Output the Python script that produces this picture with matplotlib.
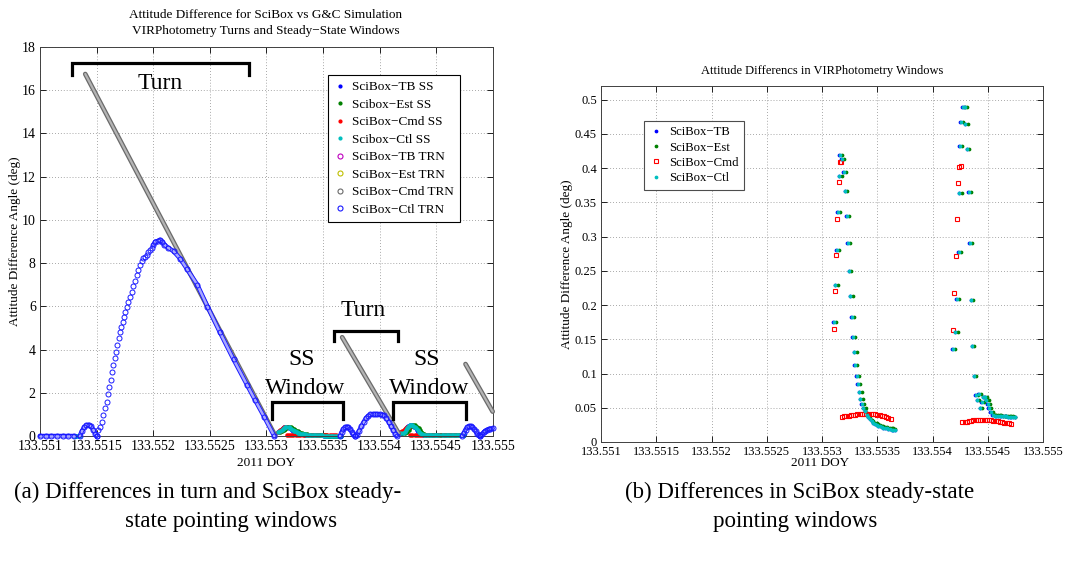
import matplotlib
matplotlib.use('Agg')
import matplotlib.pyplot as plt
from matplotlib.lines import Line2D

plt.rcParams['font.family'] = ['Liberation Serif', 'DejaVu Serif']

# ---------------- data ----------------
x_ticks = [133.551, 133.5515, 133.552, 133.5525, 133.553, 133.5535, 133.554, 133.5545, 133.555]
x_tick_labels = ['133.551', '133.5515', '133.552', '133.5525', '133.553',
                 '133.5535', '133.554', '133.5545', '133.555']
left_y_ticks = [0, 2, 4, 6, 8, 10, 12, 14, 16, 18]
right_y_ticks = [0, 0.05, 0.1, 0.15, 0.2, 0.25, 0.3, 0.35, 0.4, 0.45, 0.5]
right_y_labels = ['0', '0.05', '0.1', '0.15', '0.2', '0.25', '0.3', '0.35', '0.4', '0.45', '0.5']

# SciBox-Ctl TRN (blue circles), left plot
trn_flat_t = [133.55100, 133.55105, 133.55110, 133.55115, 133.55120, 133.55125, 133.55130]
trn_flat_v = [0, 0, 0, 0, 0, 0, 0]
trn_bump1_t = [133.55135, 133.55137, 133.55139, 133.55141, 133.55143, 133.55145, 133.55147, 133.55149, 133.55150]
trn_bump1_v = [0.0, 0.22, 0.40, 0.50, 0.52, 0.45, 0.30, 0.10, 0.0]
trn_rise_t = [133.551500, 133.551515, 133.551530, 133.551545, 133.551559, 133.551574, 133.551589,
              133.551600, 133.5516125, 133.551624, 133.551636, 133.551648, 133.551660, 133.551671,
              133.551683, 133.551695, 133.551707, 133.5517185, 133.551730, 133.551742, 133.551754,
              133.551766, 133.551780, 133.551795, 133.551810, 133.5518245, 133.551839, 133.551854,
              133.551869, 133.551883, 133.551898, 133.551913, 133.551928, 133.551942, 133.551957,
              133.551972, 133.551986]
trn_rise_v = [0.00, 0.28, 0.43, 0.66, 0.97, 1.28, 1.59,
              1.95, 2.28, 2.59, 2.98, 3.29, 3.59, 3.90,
              4.21, 4.52, 4.83, 5.06, 5.29, 5.52, 5.75,
              5.99, 6.22, 6.45, 6.68, 6.94, 7.19, 7.45,
              7.68, 7.91, 8.10, 8.22, 8.30, 8.38, 8.50,
              8.61, 8.72]
trn_fall_t = [133.552001, 133.55202, 133.55204, 133.55206, 133.55208, 133.55210, 133.55213,
              133.55218, 133.55224, 133.55230, 133.55239, 133.55248, 133.55259, 133.55271,
              133.55283, 133.55290, 133.55298, 133.55307]
trn_fall_v = [8.84, 9.00, 9.02, 9.08, 9.00, 8.85, 8.72,
              8.55, 8.20, 7.72, 7.00, 5.99, 4.80, 3.55,
              2.36, 1.67, 0.90, 0.00]
trn_bump2_t = [133.553650, 133.553665, 133.553680, 133.553695, 133.553710, 133.553725,
               133.553740, 133.553755, 133.553770, 133.553780]
trn_bump2_v = [0.0, 0.18, 0.32, 0.40, 0.43, 0.40, 0.32, 0.20, 0.08, 0.0]
trn_bump3_t = [133.553780, 133.553800, 133.553820, 133.553840, 133.553860, 133.553880, 133.553900,
               133.553920, 133.553940, 133.553960, 133.553980, 133.554000, 133.554020, 133.554040,
               133.554060, 133.554080, 133.554100, 133.554120, 133.554140, 133.554155]
trn_bump3_v = [0.0, 0.05, 0.25, 0.45, 0.65, 0.82, 0.93,
               1.0, 1.0, 1.0, 1.0, 1.0, 0.99, 0.95,
               0.82, 0.66, 0.48, 0.28, 0.10, 0.0]
trn_bump4_t = [133.554730, 133.554745, 133.554760, 133.554775, 133.554790, 133.554805,
               133.554820, 133.554835, 133.554850, 133.554865, 133.554880, 133.554890]
trn_bump4_v = [0.0, 0.15, 0.30, 0.40, 0.45, 0.46, 0.42, 0.33, 0.22, 0.10, 0.03, 0.0]
trn_bump5_t = [133.554890, 133.554905, 133.554920, 133.554935, 133.554950, 133.554965, 133.554980, 133.555000]
trn_bump5_v = [0.0, 0.08, 0.17, 0.24, 0.29, 0.32, 0.34, 0.35]

# SciBox-Cmd TRN (grey circles), three straight runs
cmd_trn1_t = [133.55140, 133.55308]
cmd_trn1_v = [16.75, 0.0]
cmd_trn2_t = [133.55367, 133.55417]
cmd_trn2_v = [4.57, 0.12]
cmd_trn3_t = [133.55476, 133.55500]
cmd_trn3_v = [3.33, 1.13]

# steady-state before the first turn (left plot only)
w0_t = [133.551300, 133.551310, 133.551320, 133.551330, 133.551340, 133.551350]
w0_v = [0, 0, 0, 0, 0, 0]

# steady-state window 1
w1_spike_t = [133.553105, 133.553120, 133.553135, 133.553144, 133.553156, 133.553162, 133.553177,
              133.553198, 133.553210, 133.553222, 133.553234, 133.553246, 133.553257, 133.553269,
              133.553278, 133.553293, 133.553299, 133.553314, 133.553326, 133.553338, 133.553347,
              133.553359, 133.553374]
w1_spike_t_tb = [133.553099, 133.553114, 133.553129, 133.553138, 133.553150, 133.553156, 133.553171,
                 133.553192, 133.553204, 133.553216, 133.553228, 133.553240, 133.553251, 133.553263,
                 133.553272, 133.553287, 133.553293, 133.553308, 133.553320, 133.553332, 133.553341,
                 133.553353, 133.553368]
w1_spike_t_est = [133.553125, 133.553140, 133.553155, 133.553164, 133.553176, 133.553182, 133.553197,
                  133.553218, 133.553230, 133.553242, 133.553254, 133.553266, 133.553277, 133.553289,
                  133.553298, 133.553313, 133.553319, 133.553334, 133.553346, 133.553358, 133.553367,
                  133.553379, 133.553394]
w1_spike_v = [0.175, 0.229, 0.281, 0.336, 0.389, 0.419, 0.414,
              0.395, 0.367, 0.330, 0.290, 0.249, 0.213, 0.183,
              0.154, 0.132, 0.113, 0.097, 0.084, 0.073, 0.063,
              0.056, 0.049]
w1_tail_t = [133.553389, 133.553404, 133.553419, 133.553434, 133.553449, 133.553464, 133.553479,
             133.553494, 133.553509, 133.553524, 133.553539, 133.553554, 133.553569, 133.553584,
             133.553599, 133.553614, 133.553629, 133.553644, 133.553659]
w1_tail_v = [0.045, 0.040, 0.036, 0.033, 0.030, 0.028, 0.026,
             0.025, 0.024, 0.023, 0.022, 0.021, 0.020, 0.020,
             0.019, 0.019, 0.018, 0.018, 0.017]
w1_tail_v_est = [0.047, 0.042, 0.038, 0.035, 0.032, 0.030, 0.028,
                 0.027, 0.026, 0.025, 0.024, 0.023, 0.022, 0.022,
                 0.021, 0.021, 0.020, 0.020, 0.019]
w1_cmd_t = [133.553105, 133.553120, 133.553123, 133.553135, 133.553150, 133.553159, 133.553174,
            133.553180, 133.553200, 133.553220, 133.553240, 133.553260, 133.553280, 133.553300,
            133.553320, 133.553340, 133.553360, 133.553380, 133.553400, 133.553420, 133.553440,
            133.553460, 133.553480, 133.553500, 133.553520, 133.553540, 133.553560, 133.553580,
            133.553600, 133.553620]
w1_cmd_v = [0.165, 0.220, 0.273, 0.326, 0.380, 0.409, 0.409,
            0.037, 0.0375, 0.038, 0.0385, 0.039, 0.0395, 0.040,
            0.0405, 0.041, 0.041, 0.0415, 0.0415, 0.0415, 0.041,
            0.041, 0.0405, 0.040, 0.039, 0.0385, 0.0375, 0.0365,
            0.0355, 0.034]

# steady-state window 2
w2_spike_t = [133.554183, 133.554207, 133.554222, 133.554237, 133.554243, 133.554249, 133.554257,
              133.554272, 133.554290, 133.554297, 133.554314, 133.554326, 133.554338, 133.554350,
              133.554359, 133.554377, 133.554392, 133.554404, 133.554416, 133.554431, 133.554446,
              133.554458, 133.554473, 133.554488, 133.554503, 133.554512, 133.554527, 133.554548]
w2_spike_t_tb = [133.554177, 133.554201, 133.554216, 133.554231, 133.554237, 133.554243, 133.554251,
                 133.554266, 133.554284, 133.554291, 133.554308, 133.554320, 133.554332, 133.554344,
                 133.554353, 133.554371, 133.554386, 133.554398, 133.554410, 133.554425, 133.554440,
                 133.554452, 133.554467, 133.554482, 133.554497, 133.554506, 133.554521, 133.554542]
w2_spike_t_est = [133.554203, 133.554227, 133.554242, 133.554257, 133.554263, 133.554269, 133.554277,
                  133.554292, 133.554310, 133.554317, 133.554334, 133.554346, 133.554358, 133.554370,
                  133.554379, 133.554397, 133.554412, 133.554424, 133.554436, 133.554451, 133.554466,
                  133.554478, 133.554493, 133.554508, 133.554523, 133.554532, 133.554547, 133.554568]
w2_spike_v = [0.136, 0.161, 0.209, 0.278, 0.363, 0.432, 0.468,
              0.489, 0.489, 0.464, 0.428, 0.365, 0.291, 0.208,
              0.140, 0.097, 0.068, 0.061, 0.070, 0.049, 0.058,
              0.065, 0.066, 0.061, 0.056, 0.049, 0.044, 0.039]
w2_tail_t = [133.554563, 133.554578, 133.554593, 133.554608, 133.554623, 133.554638, 133.554653,
             133.554668, 133.554683, 133.554698, 133.554713, 133.554728, 133.554743]
w2_tail_v = [0.0385, 0.038, 0.038, 0.038, 0.0378, 0.0375, 0.0375,
             0.0373, 0.037, 0.037, 0.0368, 0.0365, 0.036]
w2_tail_v_est = [0.0395, 0.039, 0.039, 0.039, 0.0388, 0.0385, 0.0385,
                 0.0383, 0.038, 0.038, 0.0378, 0.0375, 0.037]
w2_cmd_t = [133.554183, 133.554198, 133.554213, 133.554222, 133.554234, 133.554243, 133.554257,
            133.554270, 133.554290, 133.554310, 133.554330, 133.554350, 133.554370, 133.554390,
            133.554410, 133.554430, 133.554450, 133.554470, 133.554490, 133.554510, 133.554530,
            133.554550, 133.554570, 133.554590, 133.554610, 133.554630, 133.554650, 133.554670,
            133.554690, 133.554710]
w2_cmd_v = [0.164, 0.218, 0.272, 0.325, 0.378, 0.402, 0.403,
            0.0285, 0.029, 0.0295, 0.030, 0.031, 0.0315, 0.032,
            0.032, 0.0325, 0.0325, 0.0325, 0.032, 0.032, 0.0315,
            0.031, 0.031, 0.030, 0.0295, 0.029, 0.028, 0.0275,
            0.027, 0.026]

# ---------------- colours ----------------
C_TB = '#0000ff'
C_EST = '#008000'
C_CMD = '#ff0000'
C_CTL = '#00bfbf'
C_TB_TRN = '#bf00bf'
C_EST_TRN = '#bfbf00'
C_CMD_TRN = '#6a6a6a'
C_CTL_TRN = '#1a1aff'

windows = [
  (w1_spike_t_tb, w1_spike_t_est, w1_spike_t, w1_spike_v, w1_tail_t, w1_tail_v, w1_tail_v_est, w1_cmd_t, w1_cmd_v),
  (w2_spike_t_tb, w2_spike_t_est, w2_spike_t, w2_spike_v, w2_tail_t, w2_tail_v, w2_tail_v_est, w2_cmd_t, w2_cmd_v)]


def style_axes(ax, yticks, ylabels, ylim, tick_size):
  ax.set_xlim(x_ticks[0], x_ticks[-1])
  ax.set_ylim(*ylim)
  ax.set_xticks(x_ticks, x_tick_labels)
  ax.set_yticks(yticks, ylabels)
  ax.tick_params(direction='in', top=True, right=True, length=4, width=0.6,
                 labelsize=tick_size, pad=3)
  ax.grid(True, linestyle=(0, (1, 2.5)), color='0.55', linewidth=0.6)
  ax.set_axisbelow(True)
  for sp in ax.spines.values():
    sp.set_linewidth(0.7)
    sp.set_color('0.25')


def tube(ax, t, v, color, inner, lw_out, lw_in):
  # a run of overlapping hollow circles drawn as a hollow band
  ax.plot(t, v, color=color, lw=lw_out, solid_capstyle='round', clip_on=False, zorder=3)
  ax.plot(t, v, color=inner, lw=lw_in, solid_capstyle='round', clip_on=False, zorder=3)


def rings(ax, t, v, color, ms=3.6):
  ax.plot(t, v, 'o', mfc='none', mec=color, ms=ms, mew=0.7, clip_on=False, zorder=4)


def bracket(ax, x0, x1, ytop, yleg):
  ax.plot([x0, x0, x1, x1], [yleg, ytop, ytop, yleg], color='black', lw=2.3,
          solid_joinstyle='miter', clip_on=False, zorder=6)


fig = plt.figure(figsize=(10.75, 5.67), dpi=100)

# ================= left plot =================
ax1 = fig.add_axes([0.0372, 0.2310, 0.4211, 0.6861])
style_axes(ax1, left_y_ticks, [str(v) for v in left_y_ticks], (0, 18), 10)

dot = dict(ls='none', marker='.', ms=4.5, clip_on=False, zorder=2)
ax1.plot(w0_t, w0_v, color=C_CTL, **dot)
for tb_t, est_t, ctl_t, spike_v, tail_t, tail_v, tail_v_est, cmd_t, cmd_v in windows:
  ax1.plot(tb_t + tail_t, spike_v + tail_v, color=C_TB, **dot)
  ax1.plot(est_t + tail_t, spike_v + tail_v_est, color=C_EST, **dot)
  ax1.plot(cmd_t, cmd_v, color=C_CMD, **dot)
  ax1.plot(ctl_t + tail_t, spike_v + tail_v, color=C_CTL, **dot)

for t, v in [(cmd_trn1_t, cmd_trn1_v), (cmd_trn2_t, cmd_trn2_v), (cmd_trn3_t, cmd_trn3_v)]:
  tube(ax1, t, v, C_CMD_TRN, '#b4b4b4', 3.4, 1.6)

for t, v in [(trn_flat_t, trn_flat_v), (trn_bump1_t, trn_bump1_v), (trn_fall_t, trn_fall_v),
             (trn_bump2_t, trn_bump2_v), (trn_bump3_t, trn_bump3_v), (trn_bump4_t, trn_bump4_v),
             (trn_bump5_t, trn_bump5_v)]:
  tube(ax1, t, v, C_CTL_TRN, '#a8a8ff', 3.2, 1.8)
  rings(ax1, t, v, C_CTL_TRN)
rings(ax1, trn_rise_t, trn_rise_v, C_CTL_TRN)

# annotations
bracket(ax1, 133.55128, 133.55285, 17.25, 16.70)
bracket(ax1, 133.55360, 133.55416, 4.87, 4.41)
bracket(ax1, 133.55305, 133.55368, 1.56, 0.77)
bracket(ax1, 133.55412, 133.55476, 1.56, 0.77)
big = dict(fontsize=17, ha='center', va='center', zorder=7)
ax1.text(133.55206, 16.30, 'Turn', **big)
ax1.text(133.553856, 5.80, 'Turn', **big)
ax1.text(133.55331, 3.55, 'SS', **big)
ax1.text(133.55334, 2.21, 'Window', **big)
ax1.text(133.55442, 3.55, 'SS', **big)
ax1.text(133.55444, 2.21, 'Window', **big)

def ss_handle(c):
  return Line2D([], [], ls='none', marker='.', ms=4, color=c)

def trn_handle(c):
  return Line2D([], [], ls='none', marker='o', ms=3.6, mfc='none', mec=c, mew=0.8)

h1 = [ss_handle(C_TB), ss_handle(C_EST), ss_handle(C_CMD), ss_handle(C_CTL),
      trn_handle(C_TB_TRN), trn_handle(C_EST_TRN), trn_handle(C_CMD_TRN), trn_handle(C_CTL_TRN)]
l1 = ['SciBox\u2212TB SS', 'Scibox\u2212Est SS', 'SciBox\u2212Cmd SS', 'Scibox\u2212Ctl SS',
      'SciBox\u2212TB TRN', 'SciBox\u2212Est TRN', 'SciBox\u2212Cmd TRN', 'SciBox\u2212Ctl TRN']
leg1 = ax1.legend(h1, l1, loc='upper left', bbox_to_anchor=(0.636, 0.928), fontsize=9.5,
                  fancybox=False, edgecolor='black', framealpha=1, borderaxespad=0,
                  handlelength=0.9, handletextpad=0.5, labelspacing=0.4, borderpad=0.45)
leg1.get_frame().set_linewidth(0.8)
leg1.set_zorder(8)

fig.text(0.2474, 0.9594, 'Attitude Difference for SciBox vs G&C Simulation\n'
         'VIRPhotometry Turns and Steady\u2212State Windows',
         ha='center', va='center', fontsize=9.5, linespacing=1.45)
fig.text(0.014, 0.575, 'Attitude Difference Angle (deg)', rotation=90,
         ha='center', va='center', fontsize=9.5)
fig.text(0.2474, 0.184, '2011 DOY', ha='center', va='center', fontsize=9.5)

# ================= right plot =================
ax2 = fig.add_axes([0.5591, 0.2205, 0.4112, 0.6279])
style_axes(ax2, right_y_ticks, right_y_labels, (0, 0.52), 9)

dot2 = dict(ls='none', marker='.', ms=3.4, clip_on=False, zorder=3)
sq = dict(ls='none', marker='s', ms=3.2, mfc='none', mew=0.8, clip_on=False, zorder=3)
hands = None
for tb_t, est_t, ctl_t, spike_v, tail_t, tail_v, tail_v_est, cmd_t, cmd_v in windows:
  a, = ax2.plot(tb_t + tail_t, spike_v + tail_v, color=C_TB, **dot2)
  b, = ax2.plot(est_t + tail_t, spike_v + tail_v_est, color=C_EST, **dot2)
  c, = ax2.plot(cmd_t, cmd_v, mec=C_CMD, **sq)
  d, = ax2.plot(ctl_t + tail_t, spike_v + tail_v, color=C_CTL, **dot2)
  hands = [a, b, c, d]

leg2 = ax2.legend(hands, ['SciBox\u2212TB', 'SciBox\u2212Est', 'SciBox\u2212Cmd', 'SciBox\u2212Ctl'],
                  loc='upper left', bbox_to_anchor=(0.0973, 0.9025), fontsize=9.2,
                  fancybox=False, edgecolor='0.3', framealpha=1, borderaxespad=0,
                  handlelength=0.9, handletextpad=0.6, labelspacing=0.25, borderpad=0.45)
leg2.get_frame().set_linewidth(0.8)

fig.text(0.7647, 0.8753, 'Attitude Differencs in VIRPhotometry Windows',
         ha='center', va='center', fontsize=9)
fig.text(0.527, 0.534, 'Attitude Difference Angle (deg)', rotation=90,
         ha='center', va='center', fontsize=9.5)
fig.text(0.7628, 0.1834, '2011 DOY', ha='center', va='center', fontsize=9.5)

# ================= captions =================
cap = dict(ha='center', va='center', fontsize=16.5)
fig.text(0.193, 0.1323, '(a) Differences in turn and SciBox steady-', **cap)
fig.text(0.2149, 0.0811, 'state pointing windows', **cap)
fig.text(0.7442, 0.1323, '(b) Differences in SciBox steady-state', **cap)
fig.text(0.7395, 0.0811, 'pointing windows', **cap)

fig.savefig('out.png', dpi=100)
